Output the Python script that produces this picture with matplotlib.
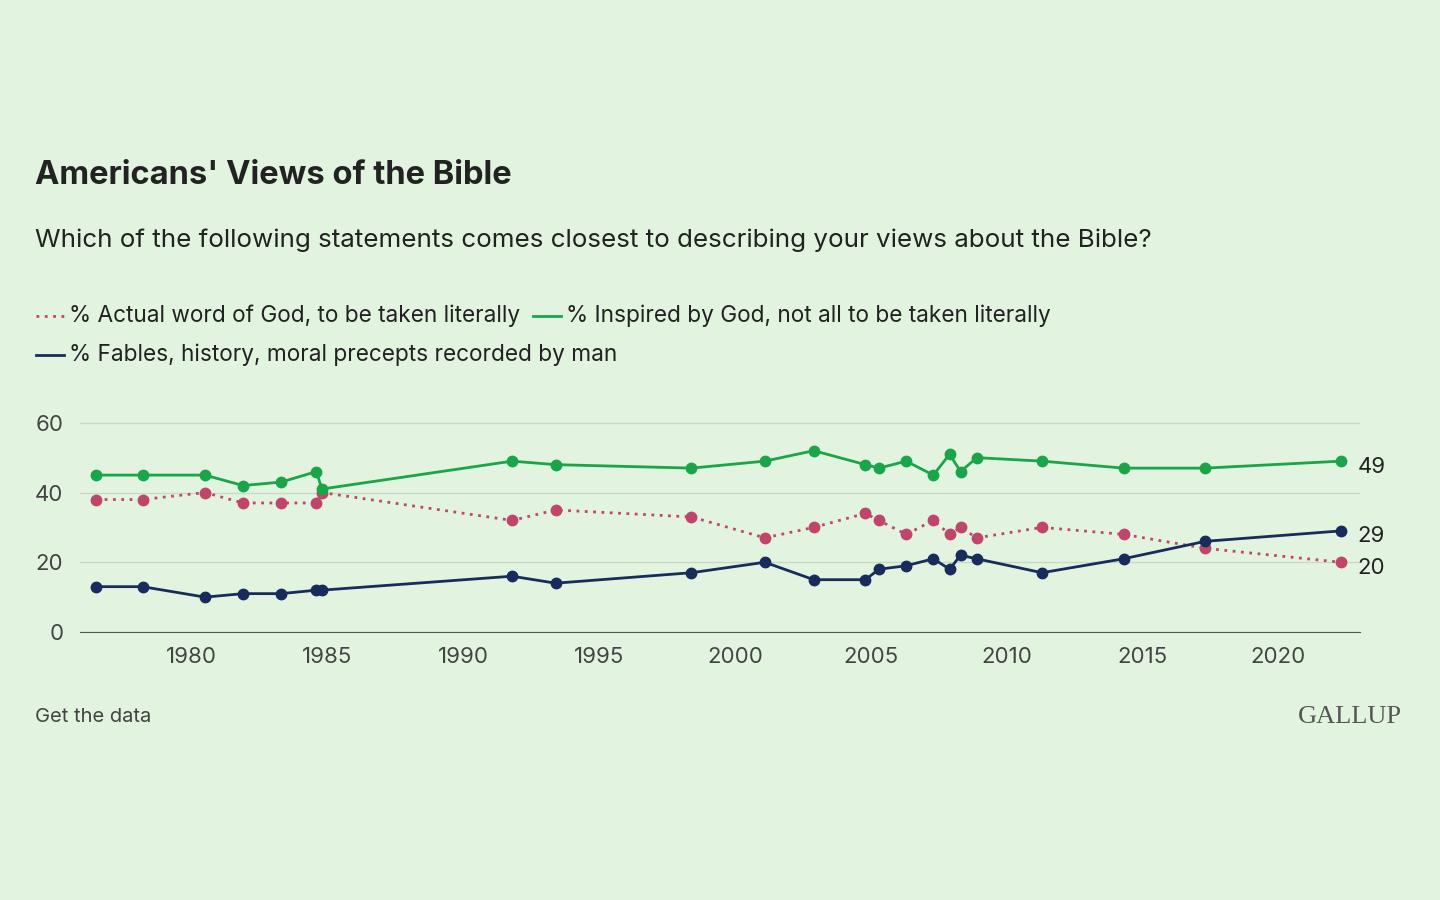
import matplotlib
matplotlib.use("Agg")
import matplotlib.pyplot as plt
from matplotlib.lines import Line2D

years = [1976.5, 1978.2, 1980.5, 1981.9, 1983.3, 1984.6, 1984.8, 1991.8, 1993.4, 1998.4,
         2001.1, 2002.9, 2004.8, 2005.3, 2006.3, 2007.3, 2007.9, 2008.3, 2008.9, 2011.3,
         2014.3, 2017.3, 2022.3]
inspired = [45, 45, 45, 42, 43, 46, 41, 49, 48, 47, 49, 52, 48, 47, 49, 45, 51, 46, 50, 49, 47, 47, 49]
literal = [38, 38, 40, 37, 37, 37, 40, 32, 35, 33, 27, 30, 34, 32, 28, 32, 28, 30, 27, 30, 28, 24, 20]
fables = [13, 13, 10, 11, 11, 12, 12, 16, 14, 17, 20, 15, 15, 18, 19, 21, 18, 22, 21, 17, 21, 26, 29]
xticks = [1980, 1985, 1990, 1995, 2000, 2005, 2010, 2015, 2020]
yticks = [0, 20, 40, 60]

BG = "#e2f4e0"
GREEN = "#1aa548"
RED = "#c0456a"
NAVY = "#182c5c"
TXT = "#222222"
plt.rcParams['font.family'] = ['Inter', 'DejaVu Sans']

fig = plt.figure(figsize=(14.4, 9), dpi=100, facecolor=BG)
ax = fig.add_axes([80/1440, 1-632/900, 1280/1440, 212/900])
ax.set_facecolor(BG)
ax.plot(years, literal, color=RED, ls=(0, (1, 2)), lw=2, marker='o', ms=7.5, zorder=3)
ax.plot(years, inspired, color=GREEN, lw=2, marker='o', ms=7.5, zorder=4)
ax.plot(years, fables, color=NAVY, lw=2, marker='o', ms=7.5, zorder=4)
ax.set_xlim(1975.9, 2023.0)
ax.set_ylim(0, 60.8)
ax.set_xticks(xticks)
ax.set_yticks(yticks)
ax.grid(axis='y', color='#c9d9c7', lw=1)
ax.set_axisbelow(True)
for s in ['top', 'right', 'left']:
    ax.spines[s].set_visible(False)
ax.spines['bottom'].set_color('#555555')
ax.tick_params(axis='x', length=0, labelsize=16, labelcolor='#444444', pad=11)
ax.tick_params(axis='y', length=0, labelsize=16, labelcolor='#444444', pad=12)
for v, c in [(inspired[-1], GREEN), (literal[-1], RED), (fables[-1], NAVY)]:
    ax.annotate(str(v), (years[-1], v), xytext=(12, -4), textcoords='offset points',
                va='center', fontsize=16, color=TXT, annotation_clip=False)

fig.text(35/1440, 1-176/900, "Americans' Views of the Bible", fontsize=23.5, fontweight='bold',
         color=TXT, va='center')
fig.text(35/1440, 1-240/900, "Which of the following statements comes closest to describing your views about the Bible?",
         fontsize=18.7, color=TXT, va='center')

def leg(x, y, color, ls, label):
    xf, yf = x/1440, 1-y/900
    fig.add_artist(Line2D([xf, xf+28/1440], [yf, yf], color=color, ls=ls, lw=2))
    fig.text(xf+33/1440, yf, label, fontsize=16.3, color=TXT, va='center')

leg(36, 316, RED, (0, (1, 2)), "% Actual word of God, to be taken literally")
leg(533, 316, GREEN, '-', "% Inspired by God, not all to be taken literally")
leg(36, 355, NAVY, '-', "% Fables, history, moral precepts recorded by man")

fig.text(35/1440, 1-717/900, "Get the data", fontsize=14.5, color='#444444', va='center')
fig.text(1402/1440, 1-717/900, "GALLUP", fontsize=19, family=['Liberation Serif', 'DejaVu Serif'],
         color='#555555', va='center', ha='right')
fig.savefig("out.png", dpi=100, facecolor=BG)
